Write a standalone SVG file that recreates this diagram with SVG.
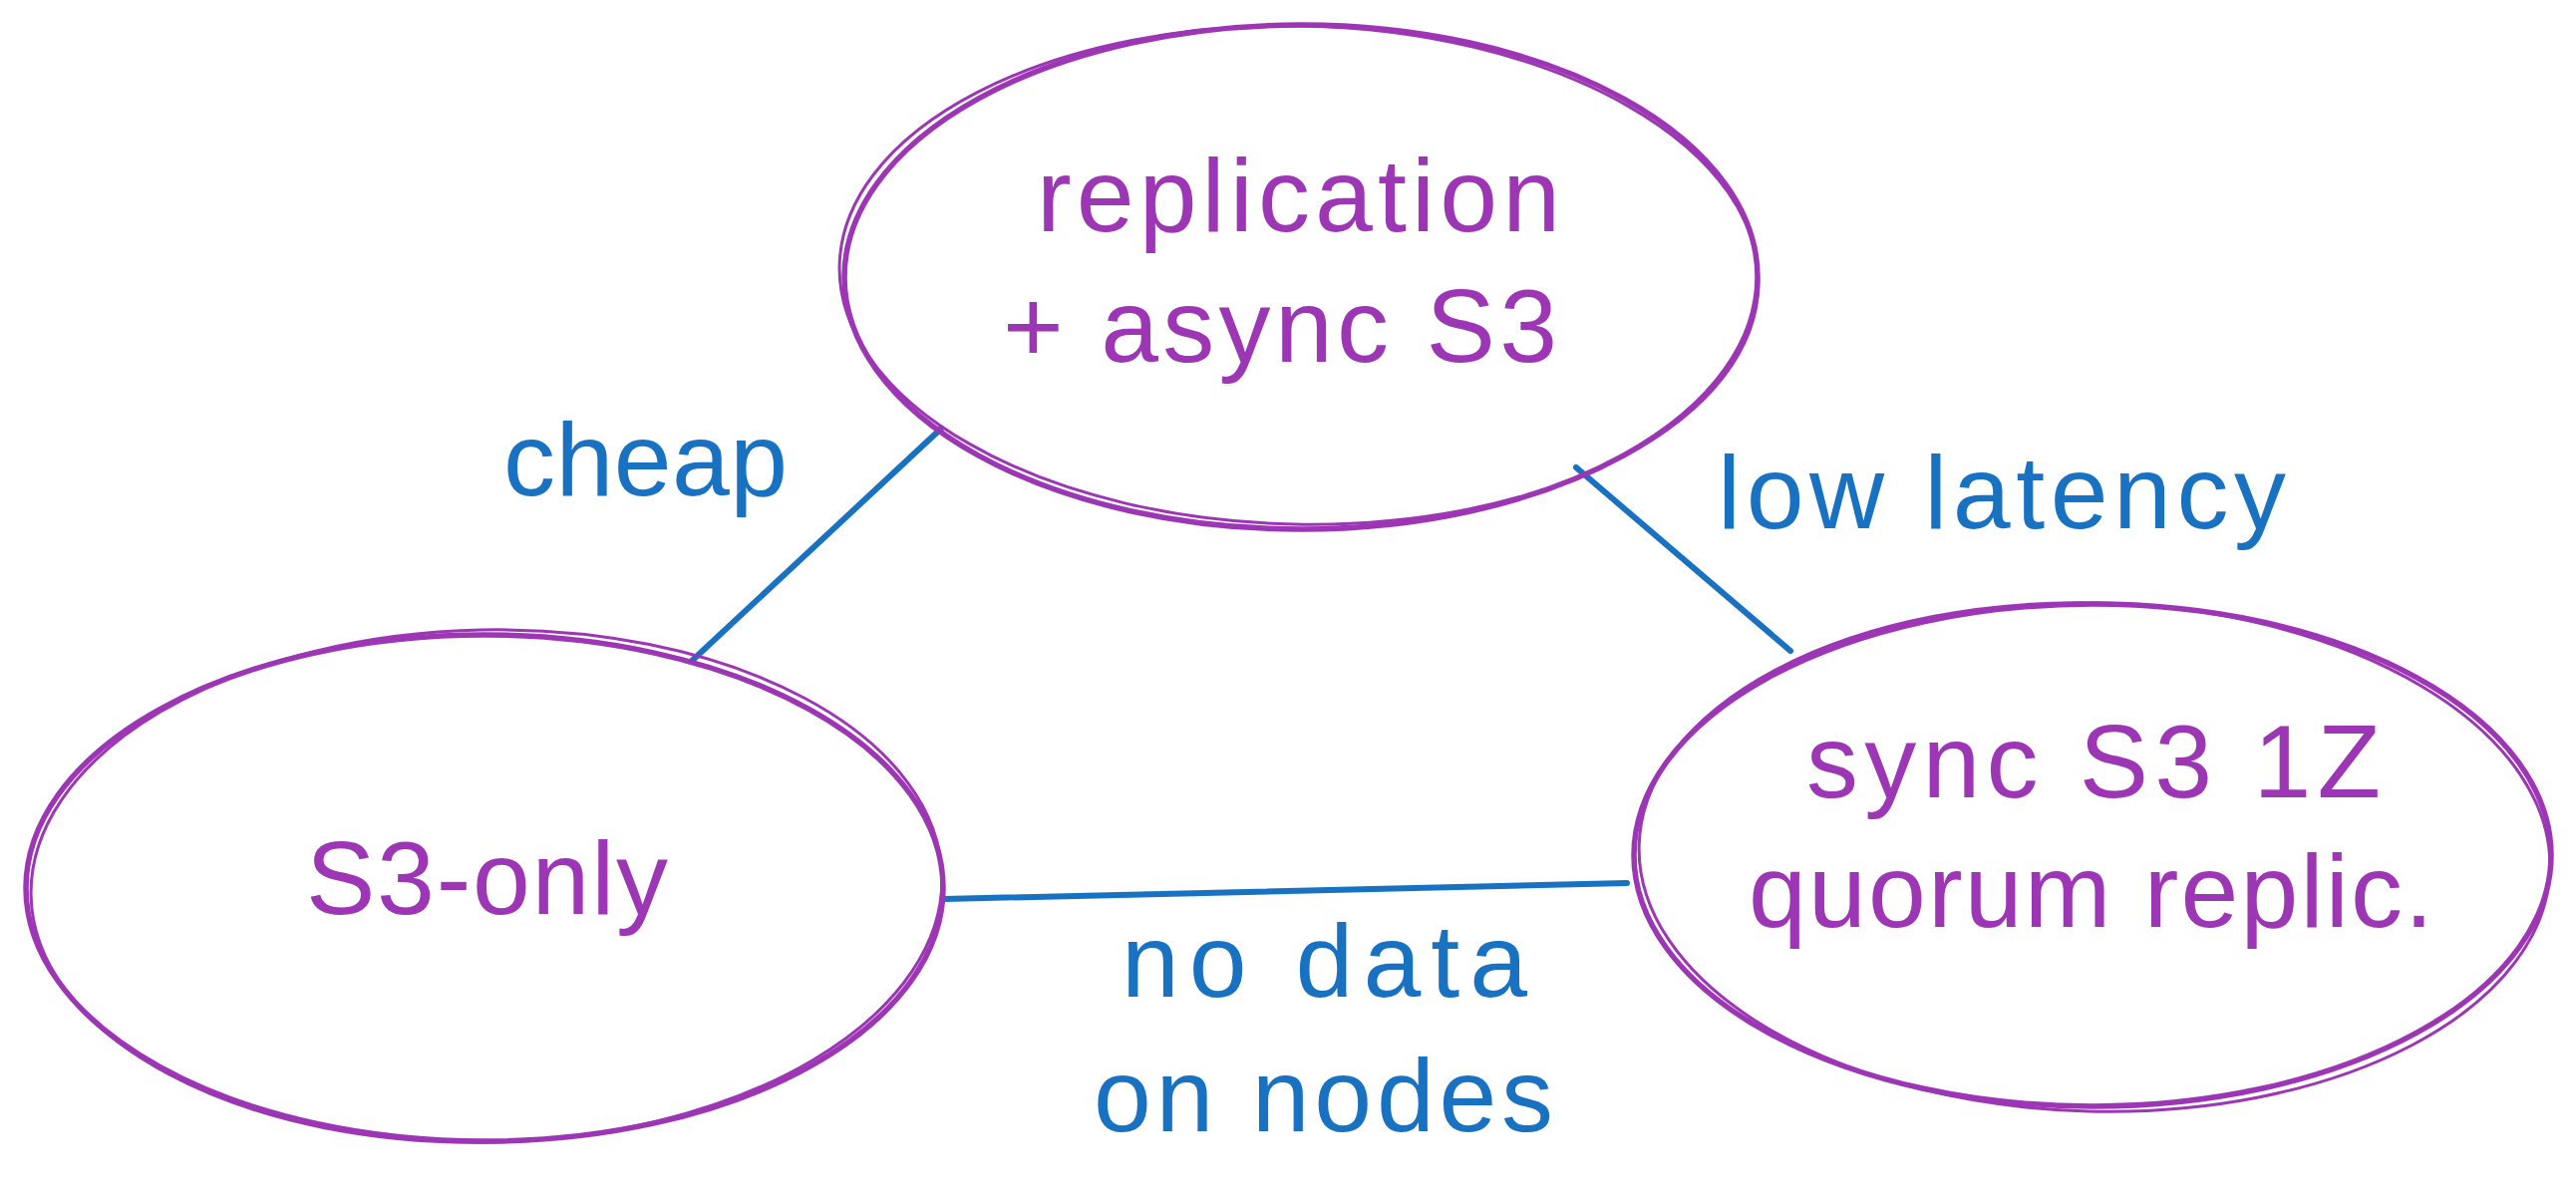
<svg xmlns="http://www.w3.org/2000/svg" width="2584" height="1205" viewBox="0 0 2584 1205">
<style>
.node-a{fill:none;stroke:#9c36b5;stroke-width:5.5;stroke-linecap:round}
.node-b{fill:none;stroke:#9c36b5;stroke-width:3;stroke-linecap:round}
.edge{fill:none;stroke:#1971c2;stroke-width:6;stroke-linecap:round}
.lbl{font-family:"Liberation Sans",Arial,sans-serif;font-size:104px;fill:#9c36b5}
.elbl{font-family:"Liberation Sans",Arial,sans-serif;font-size:104px;fill:#1971c2}
</style>
<rect width="2584" height="1205" fill="#ffffff"/>
<g id="connectors">
<line class="edge" x1="944" y1="430" x2="694" y2="663"/>
<line class="edge" x1="1581" y1="469" x2="1796" y2="653"/>
<line class="edge" x1="947" y1="902" x2="1632" y2="886"/>
<text class="elbl" x="505" y="497" textLength="285" lengthAdjust="spacing">cheap</text>
<text class="elbl" x="1723" y="530" textLength="570" lengthAdjust="spacing">low latency</text>
<text class="elbl" x="1125" y="1000" textLength="407" lengthAdjust="spacing">no data</text>
<text class="elbl" x="1097" y="1135" textLength="461" lengthAdjust="spacing">on nodes</text>
</g>
<g id="node-replication">
<ellipse class="node-a" cx="1305" cy="278" rx="458" ry="253"/>
<ellipse class="node-b" cx="1303" cy="276" rx="461" ry="250" transform="rotate(1.2 1303 276)"/>
<text class="lbl" x="1040" y="232" textLength="525" lengthAdjust="spacing">replication</text>
<text class="lbl" x="1006" y="363" textLength="556" lengthAdjust="spacing">+ async S3</text>
</g>
<g id="node-s3only">
<ellipse class="node-a" cx="486" cy="891" rx="460" ry="254"/>
<ellipse class="node-b" cx="488" cy="889" rx="457" ry="257" transform="rotate(-1.2 488 889)"/>
<text class="lbl" x="307" y="917" textLength="363" lengthAdjust="spacing">S3-only</text>
</g>
<g id="node-sync">
<ellipse class="node-a" cx="2099" cy="858" rx="460" ry="252"/>
<ellipse class="node-b" cx="2101" cy="860" rx="457" ry="255" transform="rotate(1.5 2101 860)"/>
<text class="lbl" x="1812" y="800" textLength="576" lengthAdjust="spacing">sync S3 1Z</text>
<text class="lbl" x="1754" y="930" textLength="687" lengthAdjust="spacing">quorum replic.</text>
</g>
</svg>
